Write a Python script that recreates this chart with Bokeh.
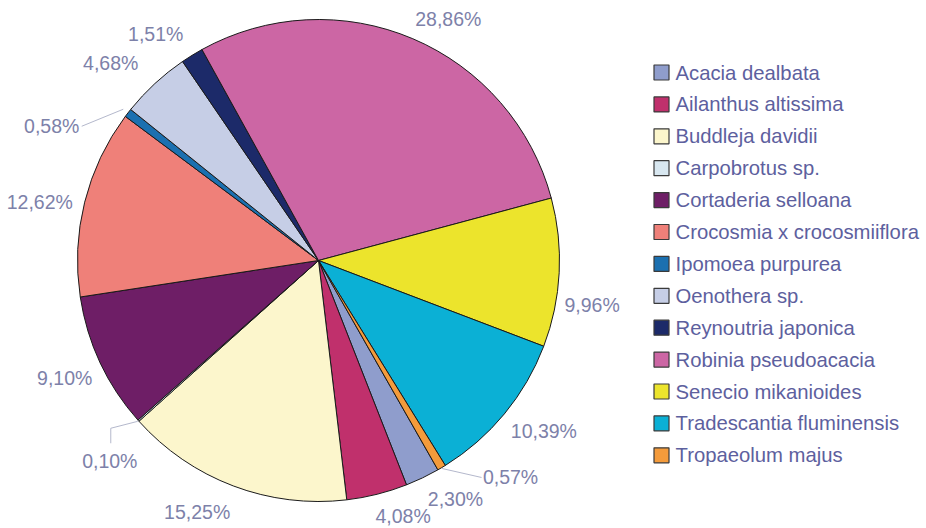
import math
from bokeh.plotting import figure
from bokeh.models import Range1d, ColumnDataSource
from bokeh.core.properties import value
from bokeh.embed import file_html
from bokeh.resources import INLINE

# ---- data ----
species = ["Acacia dealbata", "Ailanthus altissima", "Buddleja davidii", "Carpobrotus sp.",
           "Cortaderia selloana", "Crocosmia x crocosmiiflora", "Ipomoea purpurea",
           "Oenothera sp.", "Reynoutria japonica", "Robinia pseudoacacia",
           "Senecio mikanioides", "Tradescantia fluminensis", "Tropaeolum majus"]
percent = [2.30, 4.08, 15.25, 0.10, 9.10, 12.62, 0.58, 4.68, 1.51, 28.86, 9.96, 10.39, 0.57]

# ---- styling / layout ----
colors = ["#8f9dcc", "#c0306c", "#fcf6cc", "#d8e7f0", "#6e1e66", "#ef8079", "#1b70b0",
          "#c6cee6", "#1c2a69", "#cc66a4", "#ece42c", "#0bb0d5", "#f49b3b"]
W, H = 926, 528
CX, CY_SCR, R = 318, 260, 241
CY = H - CY_SCR
START_CW = 150.3          # first slice starts here, degrees clockwise from 12 o'clock
LABEL_DIST = 278
# pixel nudges (screen dx, dy) of each label from its radial base point
label_nudge = [(17, -12), (17, -14), (-23, -9), (-1, 16), (-2, 0), (-9, 9), (-47, 36),
               (-19, 7), (-17, 10), (21, 14), (-4, 30), (11, -7), (50, -22)]
LABEL_COLOR = "#7d81a9"
LEGEND_COLOR = "#5d609e"
FONT = "Liberation Sans"

p = figure(width=W, height=H, output_backend="svg", toolbar_location=None,
           x_range=Range1d(0, W), y_range=Range1d(0, H), min_border=0,
           x_axis_location=None, y_axis_location=None)
p.grid.visible = False
p.outline_line_color = None
p.background_fill_color = "white"
p.border_fill_color = "white"

total = sum(percent)
starts, ends, mids = [], [], []
c = START_CW
for v in percent:
    c0 = c
    c1 = c + v / total * 360.0
    starts.append(math.radians(90 - c1))
    ends.append(math.radians(90 - c0))
    mids.append((c0 + c1) / 2)
    c = c1

src = ColumnDataSource(dict(start=starts, end=ends, color=colors, name=species))
p.wedge(x=CX, y=CY, radius=R, start_angle="start", end_angle="end", direction="anticlock",
        fill_color="color", line_color="#1a1a1a", line_width=1, source=src)

# labels
lx, ly, ltxt = [], [], []
for v, m, (dx, dy) in zip(percent, mids, label_nudge):
    a = math.radians(m)
    x = CX + LABEL_DIST * math.sin(a) + dx
    y = CY + LABEL_DIST * math.cos(a) - dy
    lx.append(x)
    ly.append(y)
    ltxt.append(f"{v:.2f}".replace(".", ",") + "%")

p.text(x=lx, y=ly, text=ltxt, text_align="center", text_baseline="middle",
       text_font=value(FONT), text_font_size="19.5px", text_color=LABEL_COLOR)

# leader lines for the tiny slices
def edge(i, extra=1):
    a = math.radians(mids[i])
    return CX + (R + extra) * math.sin(a), CY + (R + extra) * math.cos(a)

i_trop = species.index("Tropaeolum majus")
ex, ey = edge(i_trop)
p.line([ex, lx[i_trop] - 29], [ey, ly[i_trop]], line_color="#b4b8cc", line_width=1)
i_ipo = species.index("Ipomoea purpurea")
ex, ey = edge(i_ipo, 6)
p.line([ex, lx[i_ipo] + 30], [ey, ly[i_ipo]], line_color="#b4b8cc", line_width=1)
i_car = species.index("Carpobrotus sp.")
ex, ey = edge(i_car)
p.line([ex, lx[i_car] + 1, lx[i_car] + 1], [ey, ly[i_car] + 33, ly[i_car] + 18],
       line_color="#b4b8cc", line_width=1)

# legend
LEG_X, LEG_Y0, LEG_DY = 661, 72, 31.9
leg_y = [H - (LEG_Y0 + k * LEG_DY) for k in range(len(species))]
p.rect(x=[LEG_X] * len(species), y=leg_y, width=15, height=15, fill_color=colors,
       line_color="#3a3a3a", line_width=1.2)
p.text(x=[LEG_X + 14] * len(species), y=leg_y, text=species, text_align="left",
       text_baseline="middle", text_font=value(FONT), text_font_size="20.3px",
       text_color=LEGEND_COLOR)

open("out.html", "w").write(file_html(p, INLINE))
